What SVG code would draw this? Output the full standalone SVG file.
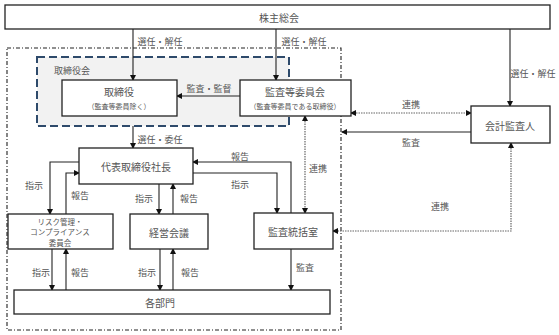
<svg xmlns="http://www.w3.org/2000/svg" width="559" height="335" viewBox="0 0 559 335">
<defs>
<marker id="ah" markerWidth="6" markerHeight="6" refX="5" refY="3" orient="auto" markerUnits="userSpaceOnUse">
<path d="M0,0 L6,3 L0,6 Z" fill="#111"/>
</marker>
<marker id="ahs" markerWidth="6" markerHeight="6" refX="1" refY="3" orient="auto" markerUnits="userSpaceOnUse">
<path d="M6,0 L0,3 L6,6 Z" fill="#111"/>
</marker>
<style>
.box{fill:#fff;stroke:#222;stroke-width:1.3}
.t{font-family:"Noto Sans CJK JP","Noto Sans CJK SC",sans-serif;fill:#555;text-anchor:middle;dominant-baseline:central}
.n{font-size:10px}
.s{font-size:7.5px}
.xs{font-size:7px}
.l{font-size:9px}
.c{fill:none;stroke:#222;stroke-width:1.1}
.d{fill:none;stroke:#666;stroke-width:1.2;stroke-dasharray:1.5 1}
</style>
</defs>
<rect x="0" y="0" width="559" height="335" fill="#fff"/>
<g id="boundary">
<rect x="7" y="48" width="334" height="282" fill="none" stroke="#222" stroke-width="1.1" stroke-dasharray="4 2 1 2"/>
</g>
<g id="board">
<rect x="37" y="57" width="252" height="69" fill="#f2f2f2" stroke="#2e4a6b" stroke-width="2" stroke-dasharray="8 4"/>
<text class="t l" x="72" y="70">取締役会</text>
</g>
<g id="connectors">
<line class="c" x1="133" y1="29" x2="133" y2="80" marker-end="url(#ah)"/>
<line class="c" x1="276" y1="29" x2="276" y2="80" marker-end="url(#ah)"/>
<line class="c" x1="510" y1="29" x2="510" y2="106" marker-end="url(#ah)"/>
<line class="c" x1="240" y1="96" x2="177" y2="96" marker-end="url(#ah)"/>
<line class="d" x1="351" y1="113" x2="471" y2="113" marker-start="url(#ahs)" marker-end="url(#ah)"/>
<line class="c" x1="471" y1="132" x2="342" y2="132" marker-end="url(#ah)"/>
<line class="c" x1="133" y1="126" x2="133" y2="148" marker-end="url(#ah)"/>
<path class="c" d="M291,213 V162 H193" marker-end="url(#ah)"/>
<path class="c" d="M193,173 H277 V213" marker-end="url(#ah)"/>
<line class="d" x1="305" y1="116" x2="305" y2="213" marker-start="url(#ahs)" marker-end="url(#ah)"/>
<path class="d" d="M511,143 V231 H333" marker-start="url(#ahs)" marker-end="url(#ah)"/>
<path class="c" d="M79,162 H50 V214" marker-end="url(#ah)"/>
<path class="c" d="M66,214 V173 H79" marker-end="url(#ah)"/>
<line class="c" x1="159" y1="184" x2="159" y2="214" marker-end="url(#ah)"/>
<line class="c" x1="173" y1="214" x2="173" y2="184" marker-end="url(#ah)"/>
<line class="c" x1="52" y1="249" x2="52" y2="290" marker-end="url(#ah)"/>
<line class="c" x1="66" y1="290" x2="66" y2="249" marker-end="url(#ah)"/>
<line class="c" x1="160" y1="249" x2="160" y2="290" marker-end="url(#ah)"/>
<line class="c" x1="173" y1="290" x2="173" y2="249" marker-end="url(#ah)"/>
<line class="c" x1="291" y1="249" x2="291" y2="290" marker-end="url(#ah)"/>
<text class="t l" x="160" y="41">選任・解任</text>
<text class="t l" x="304" y="41">選任・解任</text>
<text class="t l" x="533" y="73">選任・解任</text>
<text class="t l" x="209" y="88">監査・監督</text>
<text class="t l" x="411" y="104">連携</text>
<text class="t l" x="411" y="142">監査</text>
<text class="t l" x="160" y="139">選任・委任</text>
<text class="t l" x="240" y="156">報告</text>
<text class="t l" x="240" y="184">指示</text>
<text class="t l" x="318" y="168">連携</text>
<text class="t l" x="440" y="206">連携</text>
<text class="t l" x="34" y="185">指示</text>
<text class="t l" x="80" y="195">報告</text>
<text class="t l" x="144" y="198">指示</text>
<text class="t l" x="189" y="198">報告</text>
<text class="t l" x="41" y="272">指示</text>
<text class="t l" x="80" y="272">報告</text>
<text class="t l" x="147" y="272">指示</text>
<text class="t l" x="190" y="272">報告</text>
<text class="t l" x="305" y="267">監査</text>
</g>
<g id="shareholders">
<rect class="box" x="5" y="5" width="545" height="24"/>
<text class="t n" x="279" y="17">株主総会</text>
</g>
<g id="directors">
<rect class="box" x="62" y="80" width="115" height="36"/>
<text class="t n" x="119" y="91">取締役</text>
<text class="t xs" x="119" y="106">（監査等委員除く）</text>
</g>
<g id="audit-committee">
<rect class="box" x="240" y="80" width="111" height="36"/>
<text class="t n" x="295" y="91">監査等委員会</text>
<text class="t xs" x="295" y="106">（監査等委員である取締役）</text>
</g>
<g id="auditor">
<rect class="box" x="471" y="106" width="79" height="37"/>
<text class="t n" x="510" y="125">会計監査人</text>
</g>
<g id="president">
<rect class="box" x="79" y="148" width="114" height="36"/>
<text class="t n" x="136" y="166">代表取締役社長</text>
</g>
<g id="risk">
<rect class="box" x="8" y="214" width="105" height="35"/>
<text class="t s" x="60" y="221">リスク管理・</text>
<text class="t s" x="60" y="231.5">コンプライアンス</text>
<text class="t s" x="60" y="242">委員会</text>
</g>
<g id="management">
<rect class="box" x="130" y="214" width="78" height="35"/>
<text class="t n" x="169" y="232">経営会議</text>
</g>
<g id="internal-audit">
<rect class="box" x="254" y="213" width="79" height="36"/>
<text class="t n" x="293" y="231">監査統括室</text>
</g>
<g id="departments">
<rect class="box" x="14" y="290" width="316" height="24"/>
<text class="t n" x="160" y="302">各部門</text>
</g>
</svg>
